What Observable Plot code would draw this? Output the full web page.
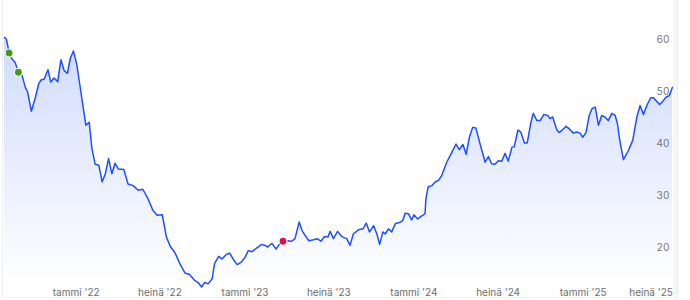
<!DOCTYPE html>
<html>
<head>
<meta charset="utf-8">
<script src="https://cdn.jsdelivr.net/npm/d3@7"></script>
<script src="https://cdn.jsdelivr.net/npm/@observablehq/plot@0.6"></script>
<style>
  html, body { margin: 0; padding: 0; background: #fff; }
  #wrap { position: relative; width: 690px; height: 300px; overflow: hidden; }
  #chart { position: absolute; left: 0; top: 0; }
  .bl { position: absolute; left: 2px; top: 0; width: 1px; height: 297px; background: #efefef; }
  .bb { position: absolute; left: 2px; top: 297px; width: 671px; height: 1px; background: #efefef; }
  .side { position: absolute; left: 673px; top: 0; width: 17px; height: 300px; background: #f6f6f7; }
  .card { position: absolute; left: 677px; top: -10px; width: 30px; height: 312px; background: #fff; border: 1px solid #ececec; border-radius: 8px; }
</style>
</head>
<body>
<div id="wrap">
  <div class="side"><div></div></div>
  <div class="card"></div>
  <div id="chart"></div>
  <div class="bl"></div>
  <div class="bb"></div>
</div>
<script>
const dates = [
  "2021-07-30","2021-08-03","2021-08-06","2021-08-09","2021-08-15","2021-08-22","2021-08-29","2021-09-06",
  "2021-09-13","2021-09-18","2021-09-26","2021-10-04","2021-10-12","2021-10-17","2021-10-24","2021-11-01",
  "2021-11-07","2021-11-14","2021-11-22","2021-11-29","2021-12-06","2021-12-13","2021-12-19","2021-12-26",
  "2022-01-02","2022-01-09","2022-01-16","2022-01-22","2022-01-29","2022-02-04","2022-02-11","2022-02-19",
  "2022-02-26","2022-03-05","2022-03-12","2022-03-19","2022-03-26","2022-04-02","2022-04-14","2022-04-23",
  "2022-05-04","2022-05-15","2022-05-25","2022-06-05","2022-06-16","2022-06-25","2022-07-06","2022-07-15",
  "2022-07-24","2022-08-02","2022-08-13","2022-08-24","2022-09-03","2022-09-14","2022-09-21","2022-09-29",
  "2022-10-06","2022-10-13","2022-10-22","2022-10-27","2022-11-05","2022-11-12","2022-11-22","2022-11-29",
  "2022-12-06","2022-12-15","2022-12-24","2023-01-01","2023-01-08","2023-01-16","2023-01-26","2023-02-06",
  "2023-02-13","2023-02-19","2023-02-28","2023-03-09","2023-03-16","2023-03-24","2023-04-03","2023-04-12",
  "2023-04-19","2023-04-28","2023-05-04","2023-05-11","2023-05-19","2023-05-29","2023-06-06","2023-06-14",
  "2023-06-22","2023-06-29","2023-07-04","2023-07-11","2023-07-20","2023-07-29","2023-08-09","2023-08-16",
  "2023-08-23","2023-09-03","2023-09-13","2023-09-20","2023-09-27","2023-10-06","2023-10-13","2023-10-19",
  "2023-10-26","2023-10-31","2023-11-07","2023-11-14","2023-11-22","2023-12-01","2023-12-08","2023-12-13",
  "2023-12-20","2023-12-27","2024-01-01","2024-01-09","2024-01-22","2024-01-25","2024-01-27","2024-02-01",
  "2024-02-09","2024-02-16","2024-02-23","2024-03-01","2024-03-12","2024-03-23","2024-04-01","2024-04-08",
  "2024-04-16","2024-04-23","2024-04-30","2024-05-07","2024-05-14","2024-05-23","2024-06-03","2024-06-10",
  "2024-06-17","2024-06-24","2024-07-02","2024-07-09","2024-07-16","2024-07-23","2024-07-31","2024-08-05",
  "2024-08-13","2024-08-19","2024-08-27","2024-09-02","2024-09-10","2024-09-15","2024-09-23","2024-09-30",
  "2024-10-08","2024-10-16","2024-10-21","2024-10-27","2024-11-05","2024-11-10","2024-11-19","2024-11-25",
  "2024-12-02","2024-12-11","2024-12-18","2024-12-25","2024-12-31","2025-01-07","2025-01-14","2025-01-20",
  "2025-01-27","2025-02-03","2025-02-10","2025-02-17","2025-02-24","2025-03-04","2025-03-11","2025-03-16",
  "2025-03-20","2025-03-25","2025-03-29","2025-04-09","2025-04-18","2025-04-27","2025-05-04","2025-05-11",
  "2025-05-20","2025-05-27","2025-06-02","2025-06-09","2025-06-15","2025-06-22","2025-06-29","2025-07-06",
  "2025-07-13"
];
const values = [
  60.4,60.1,58.8,57.4,56.3,55.6,53.7,53.1,
  50.8,49.9,46.2,48.6,51.5,52.2,52.4,54.2,
  51.8,52.6,51.9,56.1,54.0,53.5,56.3,57.8,
  55.3,51.2,47.0,43.5,44.1,39.0,36.0,35.8,
  32.6,34.2,37.1,34.2,36.2,35.1,35.0,32.2,
  31.9,31.0,31.2,29.4,27.1,26.2,26.3,22.0,
  20.1,19.1,16.9,15.1,14.8,13.7,13.3,12.4,
  13.3,13.0,14.0,16.9,18.3,17.8,18.7,18.9,
  17.8,16.7,17.2,18.1,19.4,19.2,19.9,20.6,
  20.4,20.1,20.8,19.7,20.6,21.2,21.3,21.2,
  21.7,24.9,23.3,22.3,21.3,21.5,21.7,21.2,
  22.1,22.0,23.1,21.7,23.1,22.1,21.7,20.4,
  22.6,23.4,23.6,24.7,23.0,24.2,22.6,20.6,
  23.0,22.6,23.6,23.0,24.6,24.8,25.2,26.6,
  26.5,25.3,26.3,25.5,26.3,26.5,29.4,31.7,
  31.9,32.6,32.9,33.8,36.4,38.3,39.9,38.8,
  39.8,37.9,41.2,43.1,43.0,39.9,36.4,37.5,
  36.1,36.0,36.7,36.6,38.1,36.6,39.3,39.4,
  42.6,42.2,40.1,40.1,44.1,45.8,44.4,44.4,
  45.6,45.4,44.8,45.1,42.6,42.1,42.8,43.3,
  42.8,42.0,42.2,42.0,41.2,42.1,45.4,46.7,
  47.0,43.5,45.4,45.1,44.4,45.8,45.4,43.8,
  41.2,38.7,36.9,38.7,40.6,45.1,47.3,45.6,
  47.6,48.8,48.8,48.1,47.5,48.1,48.9,49.2,
  50.8
];
const greenDates = ["2021-08-09","2021-08-29"];
const greenValues = [57.4, 53.7];
const pinkDates = ["2023-03-24"];
const pinkValues = [21.2];

const yTicks = [20, 30, 40, 50, 60];
const xTickDates = ["2022-01-01","2022-07-01","2023-01-01","2023-07-01","2024-01-01","2024-07-01","2025-01-01","2025-07-01"];
const xTickLabels = ["tammi '22","heinä '22","tammi '23","heinä '23","tammi '24","heinä '24","tammi '25","heinä '25"];

const data = dates.map((d, i) => ({date: new Date(d), value: values[i]}));
const green = greenDates.map((d, i) => ({date: new Date(d), value: greenValues[i]}));
const pink = pinkDates.map((d, i) => ({date: new Date(d), value: pinkValues[i]}));
const xt = xTickDates.map((d, i) => ({date: new Date(d), label: xTickLabels[i]}));

const chart = Plot.plot({
  width: 690,
  height: 300,
  marginLeft: 4,
  marginRight: 18,
  marginTop: 13,
  marginBottom: 11.4,
  x: {type: "utc", domain: [new Date("2021-07-30"), new Date("2025-07-13")], axis: null},
  y: {domain: [12, 65], axis: null},
  style: {fontFamily: "Inter, 'Noto Sans', sans-serif", fontSize: "10px", background: "transparent", overflow: "visible"},
  marks: [
    Plot.areaY(data, {x: "date", y1: 12, y2: "value", fill: "url(#areaGrad)"}),
    Plot.lineY(data, {x: "date", y: "value", stroke: "#1f4fff", strokeWidth: 1.5}),
    Plot.dot(green, {x: "date", y: "value", r: 4, fill: "#3f9c13", stroke: "white", strokeWidth: 1.2}),
    Plot.dot(pink, {x: "date", y: "value", r: 4, fill: "#d4145a", stroke: "white", strokeWidth: 1.2}),
    Plot.axisY(yTicks, {anchor: "right", tickSize: 0, tickPadding: 0, dx: -3, textAnchor: "end", fill: "#777", label: null}),
    Plot.text(xt.slice(0, 7), {x: "date", text: "label", frameAnchor: "bottom", lineAnchor: "middle", dy: 4, fill: "#6e6e6e"}),
    Plot.text(xt.slice(7), {x: "date", text: "label", frameAnchor: "bottom", lineAnchor: "middle", dy: 4, dx: 6, textAnchor: "end", fill: "#6e6e6e"})
  ]
});

const ns = "http://www.w3.org/2000/svg";
const defs = document.createElementNS(ns, "defs");
const grad = document.createElementNS(ns, "linearGradient");
grad.setAttribute("id", "areaGrad");
grad.setAttribute("x1", "0"); grad.setAttribute("y1", "0");
grad.setAttribute("x2", "0"); grad.setAttribute("y2", "1");
[["0%", 0.22], ["100%", 0]].forEach(([o, a]) => {
  const s = document.createElementNS(ns, "stop");
  s.setAttribute("offset", o);
  s.setAttribute("stop-color", "#2a5cf5");
  s.setAttribute("stop-opacity", a);
  grad.appendChild(s);
});
defs.appendChild(grad);
chart.insertBefore(defs, chart.firstChild);
document.getElementById("chart").appendChild(chart);
</script>
</body>
</html>
